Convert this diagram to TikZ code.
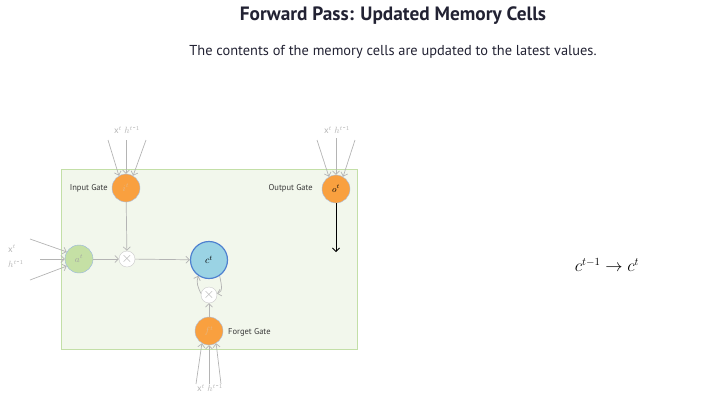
\documentclass[tikz,border=0pt]{standalone}
\usepackage{fontspec}
\setmainfont{PT Sans}
\setsansfont{PT Sans}
\usetikzlibrary{arrows.meta}
\definecolor{gorange}{HTML}{F9A03F}
\definecolor{ggreen}{HTML}{C5E0A5}
\definecolor{cellfill}{HTML}{9AD3E4}
\definecolor{cellborder}{HTML}{4F81D0}
\definecolor{boxfill}{HTML}{F2F7EC}
\definecolor{boxborder}{HTML}{C3DFA7}
\definecolor{garr}{HTML}{B4B4B4}
\definecolor{lbl}{HTML}{3A3A3A}
\definecolor{titlec}{HTML}{222233}
\newcommand{\hlab}{$h^{t\mbox{-}1}$}
\tikzset{
  gate/.style={circle,fill=gorange,draw=cellborder!50,line width=0.4pt,minimum size=28pt,inner sep=0pt,font=\fontsize{9}{10}\selectfont},
  anode/.style={circle,fill=ggreen,draw=cellborder!60,line width=0.4pt,minimum size=28pt,inner sep=0pt,font=\fontsize{9}{10}\selectfont},
  cellnode/.style={circle,fill=cellfill,draw=cellborder,line width=1.2pt,minimum size=37pt,inner sep=0pt,font=\fontsize{10}{11}\selectfont},
  mult/.style={circle,fill=white,draw=garr!70,line width=0.4pt,minimum size=16pt,inner sep=0pt,text=garr,font=\fontsize{14}{14}\selectfont},
  garrow/.style={draw=garr,line width=0.7pt,-{Straight Barb[length=3.5pt,width=7pt]}},
  glabel/.style={text=lbl,font=\fontsize{8.5}{9}\selectfont,inner sep=0pt},
  inlabel/.style={text=garr,font=\fontsize{9}{10}\selectfont,inner sep=0pt},
}
\begin{document}
\begin{tikzpicture}[x=1pt,y=-1pt]
\useasboundingbox (0,0) rectangle (702,408);
% titles
\node[font=\bfseries\fontsize{19.3}{22}\selectfont,text=titlec] (title) at (393,16) {Forward Pass: Updated Memory Cells};
\node[font=\fontsize{14.4}{16}\selectfont,text=titlec] (sub) at (393,52) {The contents of the memory cells are updated to the latest values.};
% box
\node[draw=boxborder,fill=boxfill,line width=0.7pt,minimum width=296pt,minimum height=180pt,inner sep=0pt] (box) at (209,259) {};
% nodes
\node[gate,text=gorange!85!black!60] (i) at (126,188) {$i^t$};
\node[gate,text=black] (o) at (336,189) {$o^t$};
\node[anode,text=garr!90!black] (a) at (79,259) {$a^t$};
\node[mult] (m1) at (127,259) {$\times$};
\node[cellnode] (c) at (209,260) {$c^t$};
\node[mult] (m2) at (209,295) {$\times$};
\node[gate,text=gorange!85!black!60] (f) at (209,331) {$f^t$};
% gate labels
\node[glabel,anchor=east] (il) at (108,188) {Input Gate};
\node[glabel,anchor=east] (ol) at (313,188) {Output Gate};
\node[glabel,anchor=west] (fl) at (228,332) {Forget Gate};
% input coordinates
\coordinate (it1) at (108,140); \coordinate (it2) at (126,140); \coordinate (it3) at (146,140);
\coordinate (ot1) at (317,140); \coordinate (ot2) at (336,138); \coordinate (ot3) at (355,140);
\coordinate (fb1) at (196,384); \coordinate (fb2) at (209,384); \coordinate (fb3) at (221,384);
\coordinate (al1) at (30,239); \coordinate (al2) at (40,259); \coordinate (al3) at (30,280);
\coordinate (oend) at (336,252);
% input labels
\node[inlabel] (ilab) at (127,130) {x$^t$ \hlab};
\node[inlabel] (olab) at (337,130) {x$^t$ \hlab};
\node[inlabel] (flab) at (210,388) {x$^t$ \hlab};
\node[inlabel] (alab1) at (12,249) {x$^t$};
\node[inlabel] (alab2) at (16,264) {\hlab};
% input arrows
\draw[garrow] (it1) -- (i.120);
\draw[garrow] (it2) -- (i.north);
\draw[garrow] (it3) -- (i.60);
\draw[garrow] (ot1) -- (o.120);
\draw[garrow] (ot2) -- (o.north);
\draw[garrow] (ot3) -- (o.60);
\draw[garrow] (fb1) -- (f.240);
\draw[garrow] (fb2) -- (f.south);
\draw[garrow] (fb3) -- (f.300);
\draw[garrow] (al1) -- (a.150);
\draw[garrow] (al2) -- (a.west);
\draw[garrow] (al3) -- (a.210);
% internal
\draw[garrow] (i) -- (m1);
\draw[garrow] (a) -- (m1);
\draw[garrow] (m1) -- (c);
\draw[garrow] (f) -- (m2);
\draw[garrow] (m2.170) to[out=115,in=250] (c.236);
\draw[garrow] (c.-56) to[out=-80,in=15] (m2.10);
\draw[black,line width=0.8pt,-{Straight Barb[length=3.5pt,width=7pt]}] (o) -- (oend);
% formula
\node[font=\fontsize{16}{18}\selectfont] (eq) at (607,265) {$c^{t-1} \rightarrow c^t$};
\end{tikzpicture}
\end{document}
